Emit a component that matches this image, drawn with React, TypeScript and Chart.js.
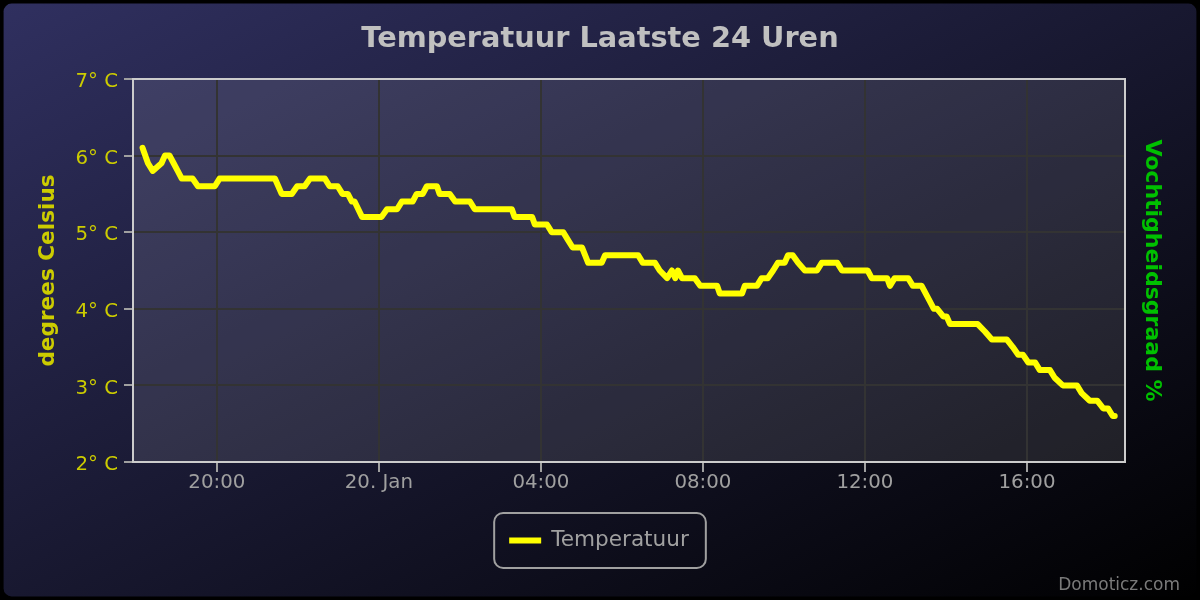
import React, { useEffect, useRef } from "react";
import { Chart, registerables } from "chart.js";

Chart.register(...registerables);

const TITLE = "Temperatuur Laatste 24 Uren";
const SERIES_LABEL = "Temperatuur";
const Y_TITLE = "degrees Celsius";
const Y2_TITLE = "Vochtigheidsgraad %";
const CREDITS = "Domoticz.com";
const DAY_LABEL = "20. Jan";

// clock times of the readings (day rolls over after midnight)
const times = [
  "18:10", "18:18", "18:25", "18:38", "18:43", "18:50", "18:56", "19:02", "19:08", "19:24",
  "19:32", "19:57", "20:04", "21:26", "21:36", "21:51", "21:59", "22:10", "22:18", "22:40",
  "22:47", "22:59", "23:06", "23:14", "23:20", "23:24", "23:35", "00:04", "00:12", "00:27",
  "00:34", "00:50", "00:56", "01:05", "01:11", "01:26", "01:30", "01:45", "01:53", "02:15",
  "02:22", "03:17", "03:21", "03:47", "03:51", "04:09", "04:16", "04:33", "04:40", "04:47",
  "05:01", "05:10", "05:30", "05:35", "06:24", "06:31", "06:49", "06:56", "07:07", "07:14",
  "07:19", "07:23", "07:29", "07:48", "07:56", "08:21", "08:25", "08:58", "09:02", "09:20",
  "09:27", "09:36", "09:44", "09:51", "10:01", "10:06", "10:13", "10:21", "10:31", "10:49",
  "10:56", "11:19", "11:26", "12:04", "12:10", "12:33", "12:37", "12:44", "13:04", "13:11",
  "13:24", "13:36", "13:42", "13:47", "13:56", "14:01", "14:06", "14:47", "14:58", "15:08",
  "15:30", "15:39", "15:47", "15:54", "16:02", "16:12", "16:19", "16:34", "16:41", "16:53",
  "17:14", "17:21", "17:33", "17:44", "17:53", "18:00", "18:07", "18:10",
];

// temperature in degrees Celsius
const temps = [
  6.1, 5.9, 5.8, 5.9, 6.0, 6.0, 5.9, 5.8, 5.7, 5.7,
  5.6, 5.6, 5.7, 5.7, 5.5, 5.5, 5.6, 5.6, 5.7, 5.7,
  5.6, 5.6, 5.5, 5.5, 5.4, 5.4, 5.2, 5.2, 5.3, 5.3,
  5.4, 5.4, 5.5, 5.5, 5.6, 5.6, 5.5, 5.5, 5.4, 5.4,
  5.3, 5.3, 5.2, 5.2, 5.1, 5.1, 5.0, 5.0, 4.9, 4.8,
  4.8, 4.6, 4.6, 4.7, 4.7, 4.6, 4.6, 4.5, 4.4, 4.5,
  4.4, 4.5, 4.4, 4.4, 4.3, 4.3, 4.2, 4.2, 4.3, 4.3,
  4.4, 4.4, 4.5, 4.6, 4.6, 4.7, 4.7, 4.6, 4.5, 4.5,
  4.6, 4.6, 4.5, 4.5, 4.4, 4.4, 4.3, 4.4, 4.4, 4.3,
  4.3, 4.1, 4.0, 4.0, 3.9, 3.9, 3.8, 3.8, 3.7, 3.6,
  3.6, 3.5, 3.4, 3.4, 3.3, 3.3, 3.2, 3.2, 3.1, 3.0,
  3.0, 2.9, 2.8, 2.8, 2.7, 2.7, 2.6, 2.6,
];

// x-axis ticks in hours counted from midnight of the first day
const xTickHours = [20, 24, 28, 32, 36, 40];
const xRange = [17.93, 42.42];
const yRange = [2, 7];
const yStep = 1;

const FONT = "'DejaVu Sans', sans-serif";

function toHours(list: string[]): number[] {
  let offset = 0;
  let prev = -1;
  return list.map((t) => {
    const [h, m] = t.split(":").map(Number);
    const v = h + m / 60;
    if (v < prev) offset += 24;
    prev = v;
    return v + offset;
  });
}

function pad2(n: number) {
  return (n < 10 ? "0" : "") + n;
}

const decorPlugin = {
  id: "decor",
  beforeDraw(chart: any) {
    const { ctx, width, height, chartArea } = chart;
    ctx.save();
    ctx.fillStyle = "#000000";
    ctx.fillRect(0, 0, width, height);
    ctx.beginPath();
    ctx.roundRect(3.6, 3.6, width - 7.2, height - 7.2, 8);
    ctx.clip();
    // gradient in bounding-box units (like SVG objectBoundingBox)
    ctx.scale(width, height);
    const g = ctx.createLinearGradient(0, 0, 1, 1);
    g.addColorStop(0, "rgb(48, 48, 96)");
    g.addColorStop(1, "rgb(0, 0, 0)");
    ctx.fillStyle = g;
    ctx.fillRect(0, 0, 1, 1);
    ctx.restore();
    ctx.save();
    ctx.fillStyle = "rgba(255, 255, 255, 0.1)";
    ctx.fillRect(chartArea.left, chartArea.top, chartArea.right - chartArea.left, chartArea.bottom - chartArea.top);
    ctx.restore();
  },
  beforeDatasetsDraw(chart: any) {
    const { ctx, chartArea } = chart;
    ctx.save();
    ctx.strokeStyle = "#cccccc";
    ctx.lineWidth = 2;
    ctx.strokeRect(chartArea.left, chartArea.top, chartArea.right - chartArea.left, chartArea.bottom - chartArea.top);
    ctx.restore();
  },
  afterDraw(chart: any) {
    const { ctx, width, height } = chart;
    ctx.save();
    // legend
    const ds = chart.data.datasets[0];
    ctx.font = `21.6px ${FONT}`;
    const tw = ctx.measureText(ds.label).width;
    const boxW = 16 + 32 + 10 + tw + 16;
    const boxH = 55;
    const bx = width / 2 - boxW / 2;
    const by = 513;
    ctx.strokeStyle = "#a0a0a0";
    ctx.lineWidth = 2;
    ctx.beginPath();
    ctx.roundRect(bx, by, boxW, boxH, 9);
    ctx.stroke();
    const cy = by + boxH / 2;
    ctx.strokeStyle = ds.borderColor;
    ctx.lineWidth = 6;
    ctx.beginPath();
    ctx.moveTo(bx + 15, cy);
    ctx.lineTo(bx + 47, cy);
    ctx.stroke();
    ctx.fillStyle = "#a0a0a0";
    ctx.textAlign = "left";
    ctx.textBaseline = "middle";
    ctx.fillText(ds.label, bx + 57, cy);
    // credits
    ctx.font = `17px ${FONT}`;
    ctx.fillStyle = "#7a7a7a";
    ctx.textAlign = "right";
    ctx.textBaseline = "alphabetic";
    ctx.fillText(CREDITS, width - 20, height - 10);
    ctx.restore();
  },
};

export default function App() {
  const ref = useRef<HTMLCanvasElement | null>(null);

  useEffect(() => {
    document.body.style.margin = "0";
    const xs = toHours(times);
    const points = xs.map((x, i) => ({ x, y: temps[i] }));
    const chart = new Chart(ref.current as HTMLCanvasElement, {
      type: "line",
      data: {
        datasets: [
          {
            label: SERIES_LABEL,
            data: points,
            borderColor: "#ffff00",
            backgroundColor: "#ffff00",
            borderWidth: 6,
            pointRadius: 0,
            tension: 0,
            borderJoinStyle: "round",
            borderCapStyle: "round",
            yAxisID: "y",
          },
        ],
      },
      options: {
        animation: false,
        responsive: false,
        devicePixelRatio: 1,
        layout: { padding: 0 },
        plugins: {
          legend: { display: false },
          tooltip: { enabled: false },
          title: {
            display: true,
            text: TITLE,
            color: "#c0c0c0",
            font: { family: FONT, size: 28.8, weight: "bold", lineHeight: 1.2 },
            padding: { top: 22, bottom: 22.44 },
          },
        },
        scales: {
          x: {
            type: "linear",
            min: xRange[0],
            max: xRange[1],
            afterBuildTicks: (s: any) => {
              s.ticks = xTickHours.map((v) => ({ value: v }));
            },
            afterFit: (s: any) => {
              s.height = 138;
            },
            grid: {
              color: "#333333",
              lineWidth: 2,
              tickColor: "#a0a0a0",
              tickWidth: 2,
              tickLength: 10,
            },
            border: { display: false },
            ticks: {
              color: "#a0a0a0",
              font: { family: FONT, size: 19.8, lineHeight: 1 },
              padding: 1,
              maxRotation: 0,
              autoSkip: false,
              callback: (v: any) => {
                const h = Number(v) % 24;
                return h === 0 ? DAY_LABEL : pad2(h) + ":00";
              },
            },
          },
          y: {
            type: "linear",
            position: "left",
            min: yRange[0],
            max: yRange[1],
            afterFit: (s: any) => {
              s.width = 133;
            },
            grid: {
              color: "#333333",
              lineWidth: 2,
              tickColor: "#a0a0a0",
              tickWidth: 2,
              tickLength: 9,
            },
            border: { display: false },
            ticks: {
              stepSize: yStep,
              color: "#cccc00",
              padding: 6,
              labelOffset: 3,
              font: { family: FONT, size: 19.8 },
              callback: (v: any) => `${v}° C`,
            },
            title: {
              display: true,
              text: Y_TITLE,
              color: "#cccc00",
              font: { family: FONT, size: 21.6, weight: "bold", lineHeight: 1.2 },
              padding: { top: 35, bottom: 0 },
            },
          },
          y1: {
            type: "linear",
            position: "right",
            min: 0,
            max: 100,
            afterFit: (s: any) => {
              s.width = 75;
            },
            grid: { display: false, drawTicks: false },
            border: { display: false },
            ticks: { display: false },
            title: {
              display: true,
              text: Y2_TITLE,
              color: "#00c000",
              font: { family: FONT, size: 22, weight: "bold", lineHeight: 1.2 },
              padding: { top: 35, bottom: 0 },
            },
          },
        },
      },
      plugins: [decorPlugin],
    } as any);
    return () => chart.destroy();
  }, []);

  return (
    <div style={{ position: "absolute", left: 0, top: 0, width: 1200, height: 600 }}>
      <canvas ref={ref} width={1200} height={600} style={{ width: 1200, height: 600, display: "block" }} />
    </div>
  );
}
